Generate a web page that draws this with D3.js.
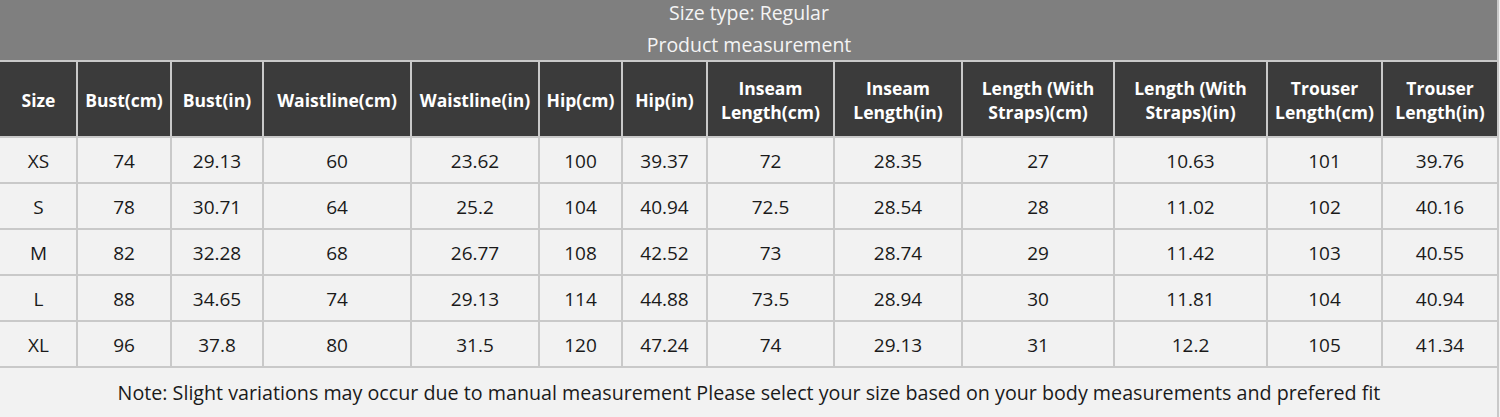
<!DOCTYPE html>
<html>
<head>
<meta charset="utf-8">
<script src="https://cdn.jsdelivr.net/npm/d3@7"></script>
<style>
  html, body { margin: 0; padding: 0; background: #f2f2f2; }
  svg { display: block; }
</style>
</head>
<body>
<div class="container__chart"></div>
<script>
// data
const TITLE_LINES = ["Size type: Regular", "Product measurement"];
const NOTE = "Note: Slight variations may occur due to manual measurement Please select your size based on your body measurements and prefered fit";

const sizes = ["XS", "S", "M", "L", "XL"];
const headers = [
    ["Size"], ["Bust(cm)"], ["Bust(in)"], ["Waistline(cm)"], ["Waistline(in)"],
    ["Hip(cm)"], ["Hip(in)"], ["Inseam", "Length(cm)"], ["Inseam", "Length(in)"],
    ["Length (With", "Straps)(cm)"], ["Length (With", "Straps)(in)"],
    ["Trouser", "Length(cm)"], ["Trouser", "Length(in)"]
];
const bustCm = [74, 78, 82, 88, 96];
const bustIn = [29.13, 30.71, 32.28, 34.65, 37.8];
const waistCm = [60, 64, 68, 74, 80];
const waistIn = [23.62, 25.2, 26.77, 29.13, 31.5];
const hipCm = [100, 104, 108, 114, 120];
const hipIn = [39.37, 40.94, 42.52, 44.88, 47.24];
const inseamCm = [72, 72.5, 73, 73.5, 74];
const inseamIn = [28.35, 28.54, 28.74, 28.94, 29.13];
const strapLenCm = [27, 28, 29, 30, 31];
const strapLenIn = [10.63, 11.02, 11.42, 11.81, 12.2];
const trouserCm = [101, 102, 103, 104, 105];
const trouserIn = [39.76, 40.16, 40.55, 40.94, 41.34];

const seriesList = [sizes, bustCm, bustIn, waistCm, waistIn, hipCm, hipIn,
    inseamCm, inseamIn, strapLenCm, strapLenIn, trouserCm, trouserIn];

// layout
const WIDTH = 1500;
const HEIGHT = 417;
const COL_WIDTHS = [77, 94, 92, 148, 128, 83, 85, 127, 128, 152, 153, 115, 116];
const TITLE_H = 61;
const HEAD_H = 76;
const ROW_H = 46;
const FONT = "'Open Sans', 'Noto Sans', sans-serif";
const GRID = "#c9c9c9";

const colEdges = d3.cumsum([0, ...COL_WIDTHS]);
const xScale = d3.scaleOrdinal().domain(d3.range(headers.length)).range(colEdges);
const wScale = d3.scaleOrdinal().domain(d3.range(headers.length)).range(COL_WIDTHS);
const yScale = d3.scaleBand()
    .domain(sizes)
    .range([TITLE_H + HEAD_H, TITLE_H + HEAD_H + ROW_H * sizes.length]);
const tableRight = colEdges[colEdges.length - 1];
const noteTop = yScale.range()[1];

const svg = d3.select(".container__chart")
    .append("svg")
    .attr("width", WIDTH)
    .attr("height", HEIGHT)
    .style("font-family", FONT);

// background
svg.append("rect").attr("width", WIDTH).attr("height", HEIGHT).attr("fill", "#f2f2f2");

// title band
svg.append("rect")
    .attr("x", 0).attr("y", 0)
    .attr("width", tableRight).attr("height", TITLE_H)
    .attr("fill", "#7f7f7f");

svg.selectAll(".title")
    .data(TITLE_LINES)
    .enter()
    .append("text")
    .attr("class", "title")
    .attr("x", tableRight / 2)
    .attr("y", (d, i) => 12 + i * 32)
    .attr("text-anchor", "middle")
    .attr("dominant-baseline", "central")
    .style("font-size", "19.5px")
    .attr("fill", "#f4f4f4")
    .text(d => d);

// header row
const head = svg.append("g");
head.selectAll("rect")
    .data(headers)
    .enter()
    .append("rect")
    .attr("x", (d, i) => xScale(i))
    .attr("y", TITLE_H)
    .attr("width", (d, i) => wScale(i))
    .attr("height", HEAD_H)
    .attr("fill", "#3b3b3b");

head.selectAll("text")
    .data(headers)
    .enter()
    .append("text")
    .attr("x", (d, i) => xScale(i) + wScale(i) / 2)
    .attr("y", TITLE_H + HEAD_H / 2)
    .attr("text-anchor", "middle")
    .attr("dominant-baseline", "central")
    .style("font-size", "17.5px")
    .style("font-weight", "bold")
    .attr("fill", "#ffffff")
    .each(function (d) {
        const t = d3.select(this);
        d.forEach((line, k) => {
            t.append("tspan")
                .attr("x", t.attr("x"))
                .attr("y", TITLE_H + HEAD_H / 2 + 1 + (k - (d.length - 1) / 2) * 24)
                .text(line);
        });
    });

// body cells
const cells = [];
seriesList.forEach((series, c) => {
    series.forEach((v, r) => cells.push({ col: c, size: sizes[r], value: v }));
});

svg.append("g")
    .selectAll("text")
    .data(cells)
    .enter()
    .append("text")
    .attr("x", d => xScale(d.col) + wScale(d.col) / 2)
    .attr("y", d => yScale(d.size) + yScale.bandwidth() / 2 + 1)
    .attr("text-anchor", "middle")
    .attr("dominant-baseline", "central")
    .style("font-size", "19px")
    .attr("fill", "#1a1a1a")
    .text(d => String(d.value));

// grid lines
const grid = svg.append("g")
    .attr("stroke", GRID)
    .attr("stroke-width", 2);

grid.selectAll(".vline")
    .data(colEdges.slice(1))
    .enter()
    .append("line")
    .attr("x1", d => d).attr("x2", d => d)
    .attr("y1", TITLE_H).attr("y2", noteTop);

grid.selectAll(".hline")
    .data([TITLE_H, ...sizes.map(s => yScale(s)), noteTop])
    .enter()
    .append("line")
    .attr("x1", 0).attr("x2", tableRight)
    .attr("y1", d => d).attr("y2", d => d);

grid.append("line")
    .attr("x1", tableRight).attr("x2", tableRight)
    .attr("y1", 0).attr("y2", HEIGHT);

// note
svg.append("text")
    .attr("x", tableRight / 2)
    .attr("y", noteTop + 25)
    .attr("text-anchor", "middle")
    .attr("dominant-baseline", "central")
    .style("font-size", "19.7px")
    .attr("fill", "#1a1a1a")
    .text(NOTE);
</script>
</body>
</html>
